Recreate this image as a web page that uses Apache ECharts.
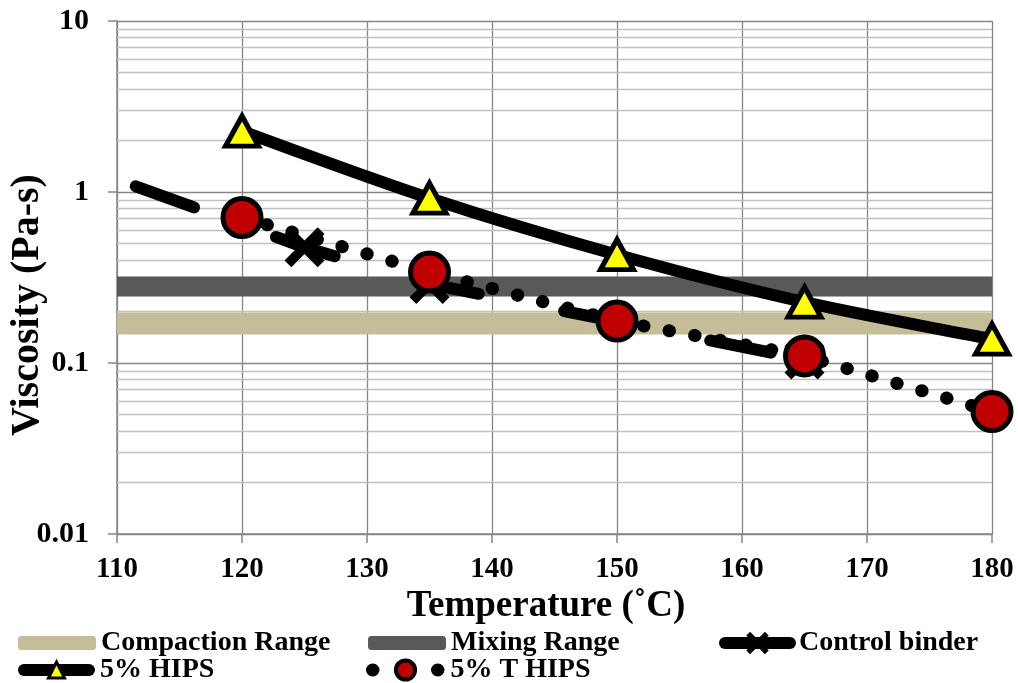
<!DOCTYPE html>
<html><head><meta charset="utf-8">
<script src="https://cdn.jsdelivr.net/npm/echarts@6/dist/echarts.min.js"></script>
<style>html,body{margin:0;padding:0;background:#fff}#c{width:1018px;height:683px}</style>
</head><body><div id="c"></div>
<script>
// ---- data ----
const temperatures = [120, 135, 150, 165, 180];
const hips5 = [2.27, 0.92, 0.43, 0.227, 0.138];
const tHips5 = [0.71, 0.34, 0.176, 0.11, 0.052];
const controlTemps = [111.5, 125, 135, 165];
const controlBinder = [1.08, 0.475, 0.29, 0.105];
const controlMarked = [false, true, true, true];
const rangeTemps = [110, 180];
const compactionRange = [0.17, 0.17];
const mixingRange = [0.28, 0.28];
const xMin = 110, xMax = 180, xInterval = 10;
const yTickLabels = [0.01, 0.1, 1, 10];
const minorGridValues = [0.02,0.03,0.04,0.05,0.06,0.07,0.08,0.09,
                         0.2,0.3,0.4,0.5,0.6,0.7,0.8,0.9,
                         2,3,4,5,6,7,8,9];

const FONT = 'Liberation Serif';
const X_PATH = 'path://M0,17L17,0L50,33L83,0L100,17L67,50L100,83L83,100L50,67L17,100L0,83L33,50Z';
const GRID_MAJOR = '#868686';
const GRID_MINOR = '#c0c0c0';

const chart = echarts.init(document.getElementById('c'), null, {renderer: 'canvas'});

function legendText(padLeft) {
  return {fontFamily: FONT, fontWeight: 'bold', fontSize: 28, color: '#000', lineHeight: 28, padding: [0, 0, 0, padLeft]};
}
const legendBase = {orient: 'horizontal', padding: 0, itemGap: 0, selectedMode: false};

const option = {
  animation: false,
  backgroundColor: '#fff',
  grid: {left: 117, right: 26, top: 21, bottom: 149, containLabel: false, outerBoundsMode: 'none'},
  legend: [
    Object.assign({}, legendBase, {left: 18, top: 629, itemWidth: 78, itemHeight: 14, textStyle: legendText(0),
      data: [{name: 'Compaction Range', icon: 'roundRect'}]}),
    Object.assign({}, legendBase, {left: 368, top: 629, itemWidth: 78, itemHeight: 14, textStyle: legendText(0),
      data: [{name: 'Mixing Range', icon: 'roundRect'}]}),
    Object.assign({}, legendBase, {left: 719, top: 629, itemWidth: 65, itemHeight: 28, textStyle: legendText(4),
      data: ['Control binder'], lineStyle: {type: 'solid', width: 12, color: '#000', cap: 'round'}}),
    Object.assign({}, legendBase, {left: 18, top: 656, itemWidth: 65, itemHeight: 20, textStyle: legendText(6),
      data: ['5% HIPS'], lineStyle: {width: 12, color: '#000', cap: 'round'}, itemStyle: {borderWidth: 3}}),
    Object.assign({}, legendBase, {left: 366, top: 656, itemWidth: 66, itemHeight: 24, textStyle: legendText(7),
      data: ['5% T HIPS'], lineStyle: {width: 13, color: '#000', type: [0.5, 64.5], cap: 'round'}, itemStyle: {borderWidth: 4}})
  ],
  xAxis: {
    type: 'value', min: xMin, max: xMax, interval: xInterval,
    axisLine: {show: true, lineStyle: {color: GRID_MAJOR, width: 1.5}},
    axisTick: {show: true, inside: false, length: 9, lineStyle: {color: GRID_MAJOR, width: 1.5}},
    axisLabel: {fontFamily: FONT, fontWeight: 'bold', fontSize: 29, color: '#000', margin: 21, lineHeight: 29},
    splitLine: {show: true, lineStyle: {color: GRID_MAJOR, width: 1.3}},
    name: 'Temperature (˚C)', nameLocation: 'middle', nameGap: 54, nameMoveOverlap: false,
    nameTextStyle: {fontFamily: FONT, fontWeight: 'bold', fontSize: 37, color: '#000', lineHeight: 37, padding: [0, 17, 0, 0]}
  },
  yAxis: {
    type: 'log', logBase: 10, min: 0.01, max: 10,
    axisLine: {show: true, lineStyle: {color: GRID_MAJOR, width: 1.5}},
    axisTick: {show: true, inside: false, length: 9, lineStyle: {color: GRID_MAJOR, width: 1.5}},
    minorTick: {show: false},
    axisLabel: {fontFamily: FONT, fontWeight: 'bold', fontSize: 30, color: '#000', margin: 28,
      formatter: function (v) {
        let best = yTickLabels[0];
        yTickLabels.forEach(t => { if (Math.abs(Math.log10(t) - Math.log10(v)) < Math.abs(Math.log10(best) - Math.log10(v))) best = t; });
        return String(best);
      }},
    splitLine: {show: true, lineStyle: {color: GRID_MAJOR, width: 1.3}},
    name: 'Viscosity (Pa-s)', nameLocation: 'middle', nameGap: 69, nameMoveOverlap: false,
    nameTextStyle: {fontFamily: FONT, fontWeight: 'bold', fontSize: 40, color: '#000', lineHeight: 40, padding: [0, 55, 0, 0]}
  },
  series: [
    {
      name: 'minor-grid', type: 'line', data: [], silent: true, z: 1,
      markLine: {
        silent: true, z: 1, symbol: ['none', 'none'], label: {show: false}, animation: false,
        lineStyle: {color: GRID_MINOR, width: 1.3, type: 'solid'},
        emphasis: {disabled: true},
        data: minorGridValues.map(v => ({yAxis: v}))
      }
    },
    {
      name: 'Compaction Range', type: 'line', symbol: 'none', silent: true,
      data: rangeTemps.map((t, i) => [t, compactionRange[i]]),
      lineStyle: {color: '#c4bd97', width: 22, cap: 'butt'},
      itemStyle: {color: '#c4bd97', borderWidth: 0},
      emphasis: {disabled: true}
    },
    {
      name: 'Mixing Range', type: 'line', symbol: 'none', silent: true,
      data: rangeTemps.map((t, i) => [t, mixingRange[i]]),
      lineStyle: {color: '#595959', width: 20, cap: 'butt'},
      itemStyle: {color: '#595959', borderWidth: 0},
      emphasis: {disabled: true}
    },
    {
      name: 'Control binder', type: 'line', symbol: X_PATH, symbolSize: 40, showAllSymbol: true, silent: true,
      data: controlTemps.map((t, i) => ({value: [t, controlBinder[i]], symbol: controlMarked[i] ? X_PATH : 'none'})),
      lineStyle: {color: '#000', width: 12, type: [62, 87], cap: 'round', join: 'round'},
      itemStyle: {color: '#000', borderWidth: 0},
      emphasis: {disabled: true}
    },
    {
      name: '5% HIPS', type: 'line', symbol: 'triangle', symbolSize: [33, 30], silent: true, smooth: 0.3,
      data: temperatures.map((t, i) => [t, hips5[i]]),
      lineStyle: {color: '#000', width: 12, cap: 'round'},
      itemStyle: {color: '#ffff00', borderColor: '#000', borderWidth: 5, borderJoin: 'miter'},
      emphasis: {disabled: true}
    },
    {
      name: '5% T HIPS', type: 'line', symbol: 'circle', symbolSize: 38, silent: true,
      data: temperatures.map((t, i) => [t, tHips5[i]]),
      lineStyle: {color: '#000', width: 13, type: [0.5, 25.5], cap: 'round'},
      itemStyle: {color: '#c00000', borderColor: '#000', borderWidth: 5},
      emphasis: {disabled: true}
    }
  ]
};
chart.setOption(option);
</script>
</body></html>
